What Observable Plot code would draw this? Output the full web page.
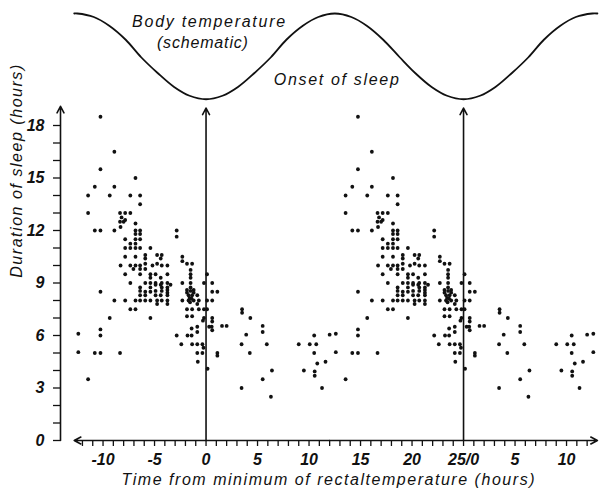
<!DOCTYPE html>
<html>
<head>
<meta charset="utf-8">
<script src="https://cdn.jsdelivr.net/npm/d3@7"></script>
<script src="https://cdn.jsdelivr.net/npm/@observablehq/plot@0.6"></script>
<style>
  html, body { margin: 0; padding: 0; background: #fff; }
  #chart svg { display: block; }
  #chart svg text { font-style: italic; }
</style>
</head>
<body>
<div id="chart"></div>
<script>
// ---- Data (one 25-hour cycle, double-plotted) ----
const sleepHours = [
  -10.25, -8.9, -10.25, -6.85, -10.8, -8.9, -11.45, -9.35, -7.35, -6.4,
  -6.4, -11.45, -8.35, -7.85, -7.35, -8.2, -7.85, -8.35, -8.0, -6.85, -8.3,
  -10.8, -10.25, -8.9, -6.85, -6.4, -2.85, -6.85, -6.4, -2.85,
  -7.85, -6.85, -6.4, -7.35, -6.85, -7.85, -7.35, -6.85, -6.4, -5.4,
  -5.9, -4.75, -4.3, -2.3, -7.85, -6.85, -5.9, -4.4, -2.3,
  -5.9, -4.75, -1.85, -1.35, -8.3, -7.35, -6.85, -6.4, -5.2, -4.3, -3.75,
  -7.05, -6.4, -5.9, -7.85, -6.4, -5.4, -4.9, -3.75, -1.5, 0.1,
  -5.4, -4.4, -1.5, -7.35, -5.9, -5.4, -4.9, -4.3, -3.75, -2.3, -1.5, -0.2, 0.6,
  -4.9, -4.4, -3.45, -6.4, -5.4, -4.3, -3.75, -1.5,
  -6.4, -4.9, -4.3, -3.75, -1.85, -1.5, -1.2,
  -10.25, -5.9, -5.4, -3.75, -1.85, -1.2, 0.6, 1.1,
  -6.4, -5.9, -4.9, -4.4, -3.75, -1.7, -1.35, -0.85,
  -8.9, -7.85, -6.85, -6.4, -5.9, -5.4, -4.75, -4.3, -3.75, -2.3, -1.7, -1.2, -0.7, 0.1, 0.6,
  -4.75, -3.75, -0.85,
  -7.35, -6.85, -1.85, -1.35, -0.7, -0.2, 0.1, 3.5, 3.5,
  -9.35, -5.4, -1.85, -1.35, -0.2, 0.6, 4.3,
  -0.3, 0.6, -0.85, -0.85, 0.3, 0.55, 0.6, 1.55, 2.0,
  -2.85, -1.8, -1.4, -1.4,
  -2.4, -1.35, -0.85, -0.35, -0.25, -0.85, -0.35, -0.8, 0.15, 1.1, 1.1,
  3.9, 3.45, 4.25, 5.5, 5.5, 5.9, 6.4, 5.5, 3.45, 6.3,
  9.0, 9.5, 10.07, 10.5, 10.5, 10.7, 10.8, 10.55, 10.55, 11.26, 11.6, 12.0,
  -12.4, -12.4, -11.45, -10.8, -10.25, -10.25, -10.25, -8.35,
  -1.5, -1.6, -1.4, -1.55
];
const sleepDuration = [
  18.5, 16.5, 15.5, 15.0, 14.5, 14.5, 14.0, 14.0, 14.0, 14.0,
  13.5, 13.0, 13.0, 13.0, 13.0, 12.75, 12.6, 12.5, 12.5, 12.4, 12.2,
  12.0, 12.0, 12.0, 12.0, 12.0, 12.0, 11.8, 11.8, 11.65,
  11.5, 11.5, 11.5, 11.25, 11.25, 11.0, 11.0, 11.0, 11.0, 11.0,
  10.6, 10.6, 10.6, 10.5, 10.5, 10.5, 10.4, 10.4, 10.25,
  10.1, 10.1, 10.1, 10.1, 10.0, 10.0, 10.0, 10.0, 10.0, 10.0, 10.0,
  9.8, 9.8, 9.8, 9.5, 9.5, 9.5, 9.5, 9.5, 9.5, 9.5,
  9.3, 9.3, 9.3, 9.0, 9.0, 9.0, 9.0, 9.0, 9.0, 9.0, 9.0, 9.0, 9.0,
  8.9, 8.9, 8.9, 8.75, 8.75, 8.75, 8.75, 8.75,
  8.55, 8.55, 8.55, 8.6, 8.6, 8.55, 8.6,
  8.5, 8.5, 8.5, 8.45, 8.45, 8.45, 8.5, 8.5,
  8.3, 8.3, 8.3, 8.3, 8.3, 8.3, 8.3, 8.3,
  8.0, 8.0, 8.0, 8.0, 8.0, 8.0, 8.0, 8.0, 8.0, 8.0, 8.0, 8.0, 8.0, 8.0, 8.0,
  7.8, 7.8, 7.8,
  7.5, 7.5, 7.5, 7.5, 7.5, 7.5, 7.5, 7.5, 7.3,
  7.0, 7.0, 7.1, 7.1, 7.0, 7.0, 7.0,
  6.85, 6.8, 6.5, 6.2, 6.5, 6.5, 6.3, 6.55, 6.55,
  6.0, 6.0, 6.0, 6.4,
  5.5, 5.5, 5.5, 5.5, 5.3, 5.0, 5.0, 4.5, 4.1, 5.0, 4.85,
  6.05, 5.5, 5.0, 6.55, 6.2, 5.5, 4.0, 3.5, 3.0, 2.5,
  5.5, 4.0, 5.5, 6.0, 5.0, 5.5, 4.4, 3.95, 3.7, 3.0, 4.5, 6.05,
  6.1, 5.05, 3.5, 5.0, 5.0, 6.35, 6.0, 5.0,
  9.75, 8.15, 8.1, 7.9
];
const cycleOffsets = [-25, 0, 25, 50];          // the data are plotted once per 25 h cycle

// schematic body-temperature curve (vertical units = chart units above the scatter)
const tempHours = [-12.8, -12.5, -10.9, -9.4, -7.8, -6.3, -4.7, -3.1, -1.6, 0, 1.6, 3.1, 4.7, 6.3, 7.8, 9.4, 10.9,
  12.5, 14.1, 15.6, 17.2, 18.8, 20.3, 21.9, 23.4, 25, 26.6, 28.1, 29.7, 31.3, 32.8, 34.4, 35.9, 37.5, 38.0];
const tempLevel = [24.4, 24.4, 24.2, 23.7, 22.9, 21.9, 21.0, 20.2, 19.7, 19.5, 19.7, 20.2, 21.0, 21.9, 22.9, 23.7, 24.2,
  24.4, 24.2, 23.7, 22.9, 21.9, 21.0, 20.2, 19.7, 19.5, 19.7, 20.2, 21.0, 21.9, 22.9, 23.7, 24.2, 24.4, 24.4];

const onsetHours = [0, 25];
const onsetTop = 19.0;

const xTickHours = d3.range(-12, 38);
const xLabelHours = [-10, -5, 0, 5, 10, 15, 20, 25, 30, 35];
const xLabelTexts = ["-10", "-5", "0", "5", "10", "15", "20", "25/0", "5", "10"];
const yTickValues = d3.range(0, 19);
const yLabelValues = [0, 3, 6, 9, 12, 15, 18];

const xAxisEnds = [-12.8, 38.0];
const yAxisTop = 19.1;

const xTitle = "Time from minimum of rectaltemperature (hours)";
const yTitle = "Duration of sleep (hours)";
const annotationTexts = ["Body temperature", "(schematic)", "Onset of sleep"];
const annotationHours = [0.25, -0.35, 12.65];
const annotationLevels = [23.9, 22.72, 20.62];

// ---- Build ----
const points = [];
cycleOffsets.forEach(off => {
  sleepHours.forEach((h, i) => {
    const t = h + off;
    if (t >= -12.7 && t <= 37.9) points.push({t, d: sleepDuration[i]});
  });
});
const curve = tempHours.map((h, i) => ({t: h, v: tempLevel[i]}));
const yAxisX = -14.13;

const ink = "#111";
const chart = Plot.plot({
  width: 599,
  height: 498,
  marginLeft: 60,
  marginRight: 0,
  marginTop: 2.5,
  marginBottom: 58,
  x: {domain: [-14.13, 38.2]},
  y: {domain: [0, 25]},
  style: {fontFamily: "'Liberation Sans', Arial, sans-serif", fontSize: "16px", background: "#fff", color: ink, overflow: "visible"},
  marks: [
    Plot.axisX({
      ticks: xTickHours, tickSize: 6, tickPadding: 7, strokeWidth: 1.3, label: null,
      fontSize: 16, fontWeight: "bold", fontStyle: "italic",
      tickFormat: d => { const i = xLabelHours.indexOf(d); return i >= 0 ? xLabelTexts[i] : ""; }
    }),
    Plot.axisY({
      ticks: yTickValues, tickSize: 7, tickPadding: 9, strokeWidth: 1.3, label: null,
      fontSize: 16, fontWeight: "bold", fontStyle: "italic",
      tickFormat: d => yLabelValues.includes(d) ? String(d) : ""
    }),
    // x axis line with arrowheads at both ends
    Plot.arrow(xAxisEnds, {x1: () => 12, y1: () => 0, x2: d => d, y2: () => 0, stroke: ink, strokeWidth: 1.6, headLength: 7, headAngle: 55}),
    // y axis line
    Plot.arrow([yAxisTop], {x1: () => yAxisX, y1: () => 0, x2: () => yAxisX, y2: d => d, stroke: ink, strokeWidth: 1.6, headLength: 7, headAngle: 55}),
    // onset-of-sleep arrows
    Plot.arrow(onsetHours, {x1: d => d, y1: () => 0, x2: d => d, y2: () => onsetTop, stroke: ink, strokeWidth: 1.6, headLength: 7, headAngle: 55}),
    // temperature schematic
    Plot.line(curve, {x: "t", y: "v", curve: "catmull-rom", stroke: ink, strokeWidth: 1.8}),
    // sleep durations
    Plot.dot(points, {x: "t", y: "d", r: 1.9, fill: ink, stroke: null}),
    // annotations
    Plot.text(annotationTexts, {x: (d, i) => annotationHours[i], y: (d, i) => annotationLevels[i], text: d => d,
      fontSize: 16, fontStyle: "italic", fill: ink}),
    Plot.text([xTitle], {frameAnchor: "bottom", dy: 44, dx: -2, text: d => d, fontSize: 16, fontStyle: "italic", fill: ink}),
    Plot.text([yTitle], {frameAnchor: "left", dx: -44, dy: 56, rotate: -90, text: d => d, fontSize: 16, fontStyle: "italic", fill: ink})
  ]
});

// stretch the hand-lettered texts to the widths they occupy in the figure
const textWidths = {"Body temperature": 153, "(schematic)": 91, "Onset of sleep": 125};
textWidths[xTitle] = 413;
textWidths[yTitle] = 213;
d3.select(chart).selectAll("text").each(function () {
  const w = textWidths[this.textContent];
  if (w) { this.setAttribute("textLength", w); this.setAttribute("lengthAdjust", "spacing"); }
});

document.getElementById("chart").appendChild(chart);
</script>
</body>
</html>
